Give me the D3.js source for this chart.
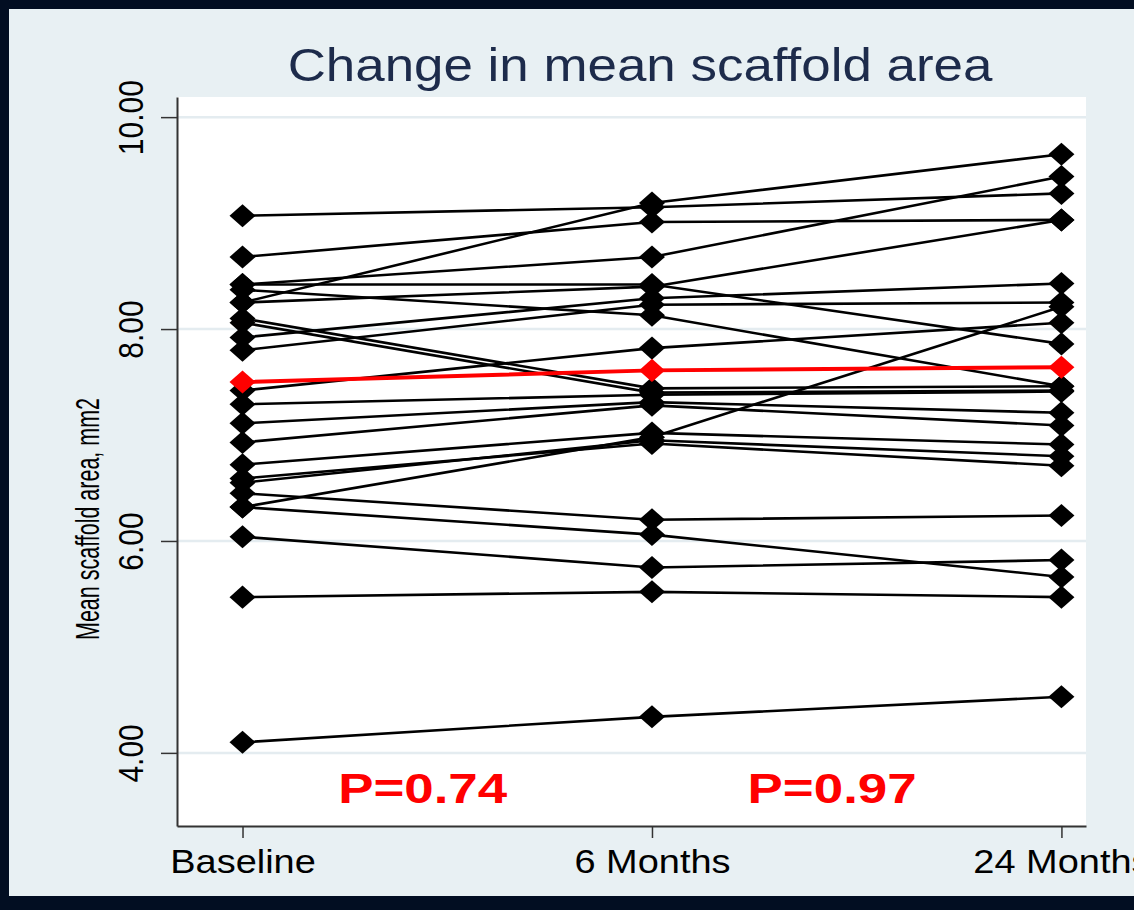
<!DOCTYPE html>
<html>
<head>
<meta charset="utf-8">
<script src="https://cdn.jsdelivr.net/npm/d3@7"></script>
<style>
  body { margin: 0; background: #020e22; }
  svg { display: block; }
</style>
</head>
<body>
<script>
var W = 1134, H = 910;

var timeLabels = ["Baseline", "6 Months", "24 Months"];
var yTicks = [4, 6, 8, 10];
var pLabels = ["P=0.74", "P=0.97"];

// one entry per patient
var baseline = [4.10, 5.47, 6.04, 6.32, 6.45, 6.32, 6.72, 6.55, 6.59, 6.93, 7.11, 7.29,
                7.42, 7.92, 7.80, 8.10, 8.06, 8.42, 8.37, 8.25, 9.07, 8.68, 8.42, 8.25];
var month6   = [4.34, 5.52, 5.75, 6.06, 6.20, 6.98, 7.02, 6.95, 6.92, 7.28, 7.31, 7.38,
                7.82, 8.29, 8.23, 7.44, 7.40, 8.42, 8.13, 9.19, 9.15, 9.01, 8.68, 8.40];
var month24  = [4.53, 5.47, 5.82, 5.66, 6.24, 8.21, 6.91, 6.80, 6.71, 7.09, 7.21, 7.41,
                8.06, 8.43, 8.25, 7.46, 7.42, 7.86, 7.46, 9.65, 9.28, 9.03, 9.44, 9.03];
var meanArea = [7.50, 7.61, 7.64];

var patients = baseline.map(function (b, i) { return [b, month6[i], month24[i]]; });

var plot = { left: 177, right: 1086, top: 97, bottom: 826 };
var stretch = 1.15;

var x = d3.scaleLinear().domain([-0.16, 2.06]).range([plot.left, plot.right]);
var y = d3.scaleLinear().domain([3.31, 10.19]).range([plot.bottom, plot.top]);

var svg = d3.select("body").append("svg")
    .attr("width", W).attr("height", H);

// light panel inside dark frame
svg.append("rect").attr("x", 9).attr("y", 9)
    .attr("width", W - 9).attr("height", 887)
    .attr("fill", "#e8f0f3");

svg.append("rect")
    .attr("x", plot.left).attr("y", plot.top)
    .attr("width", plot.right - plot.left).attr("height", plot.bottom - plot.top)
    .attr("fill", "#ffffff");

// gridlines
svg.append("g").selectAll("line")
    .data(yTicks).enter().append("line")
    .attr("x1", plot.left).attr("x2", plot.right)
    .attr("y1", function (d) { return y(d); })
    .attr("y2", function (d) { return y(d); })
    .attr("stroke", "#e4ecf0").attr("stroke-width", 2.5);

// title
svg.append("text")
    .attr("transform", "translate(640,81) scale(" + stretch + ",1)")
    .attr("text-anchor", "middle")
    .style("font-family", "Liberation Sans, Arial, sans-serif")
    .style("font-size", "46px")
    .attr("fill", "#1d2b4b")
    .text("Change in mean scaffold area");

// axes
var yAxis = d3.axisLeft(y).tickValues(yTicks).tickFormat(d3.format(".2f"))
    .tickSize(16).tickSizeOuter(0);
var yg = svg.append("g").attr("transform", "translate(" + plot.left + ",0)").call(yAxis);
yg.select(".domain").attr("stroke", "#333").attr("stroke-width", 2);
yg.selectAll(".tick line").attr("stroke", "#333").attr("stroke-width", 1.5);
yg.selectAll(".tick text")
    .attr("x", null).attr("dy", null)
    .attr("text-anchor", "middle")
    .attr("transform", "translate(-34,0) scale(" + stretch + ",1) rotate(-90)")
    .style("font-family", "Liberation Sans, Arial, sans-serif")
    .style("font-size", "30px")
    .attr("fill", "#000");

var xAxis = d3.axisBottom(x).tickValues([0, 1, 2])
    .tickFormat(function (d) { return timeLabels[d]; })
    .tickSize(12).tickSizeOuter(0);
var xg = svg.append("g").attr("transform", "translate(0," + plot.bottom + ")").call(xAxis);
xg.select(".domain").attr("stroke", "#333").attr("stroke-width", 2);
xg.selectAll(".tick line").attr("stroke", "#333").attr("stroke-width", 1.5);
xg.selectAll(".tick text")
    .attr("y", null).attr("dy", null)
    .attr("transform", "translate(0,47) scale(" + stretch + ",1)")
    .style("font-family", "Liberation Sans, Arial, sans-serif")
    .style("font-size", "33px")
    .attr("fill", "#000");

// y axis title
svg.append("text")
    .attr("transform", "translate(99,519) rotate(-90)")
    .attr("text-anchor", "middle")
    .attr("textLength", 242).attr("lengthAdjust", "spacingAndGlyphs")
    .style("font-family", "Liberation Sans, Arial, sans-serif")
    .style("font-size", "34px")
    .attr("fill", "#000")
    .text("Mean scaffold area, mm2");

// patient lines
var line = d3.line()
    .x(function (d, i) { return x(i); })
    .y(function (d) { return y(d); });

svg.append("g").selectAll("path")
    .data(patients).enter().append("path")
    .attr("d", line)
    .attr("fill", "none").attr("stroke", "#000").attr("stroke-width", 2.6);

var diamond = d3.symbol().type(d3.symbolSquare).size(265);

function markers(g, values, color) {
    g.selectAll("path")
        .data(values).enter().append("path")
        .attr("d", diamond)
        .attr("transform", function (d, i) {
            return "translate(" + x(i) + "," + y(d) + ") scale(1.13,1) rotate(45)";
        })
        .attr("fill", color);
}

patients.forEach(function (p) { markers(svg.append("g"), p, "#000"); });

// mean line in red
svg.append("path").datum(meanArea)
    .attr("d", line)
    .attr("fill", "none").attr("stroke", "#ff0000").attr("stroke-width", 4);
markers(svg.append("g"), meanArea, "#ff0000");

// p-values between timepoints
svg.append("g").selectAll("text")
    .data(pLabels).enter().append("text")
    .attr("x", function (d, i) { return x(i + 0.44); })
    .attr("y", 803)
    .attr("text-anchor", "middle")
    .attr("textLength", 169).attr("lengthAdjust", "spacingAndGlyphs")
    .style("font-family", "Liberation Sans, Arial, sans-serif")
    .style("font-weight", "bold")
    .style("font-size", "42px")
    .attr("fill", "#ff0000")
    .text(function (d) { return d; });
</script>
</body>
</html>
